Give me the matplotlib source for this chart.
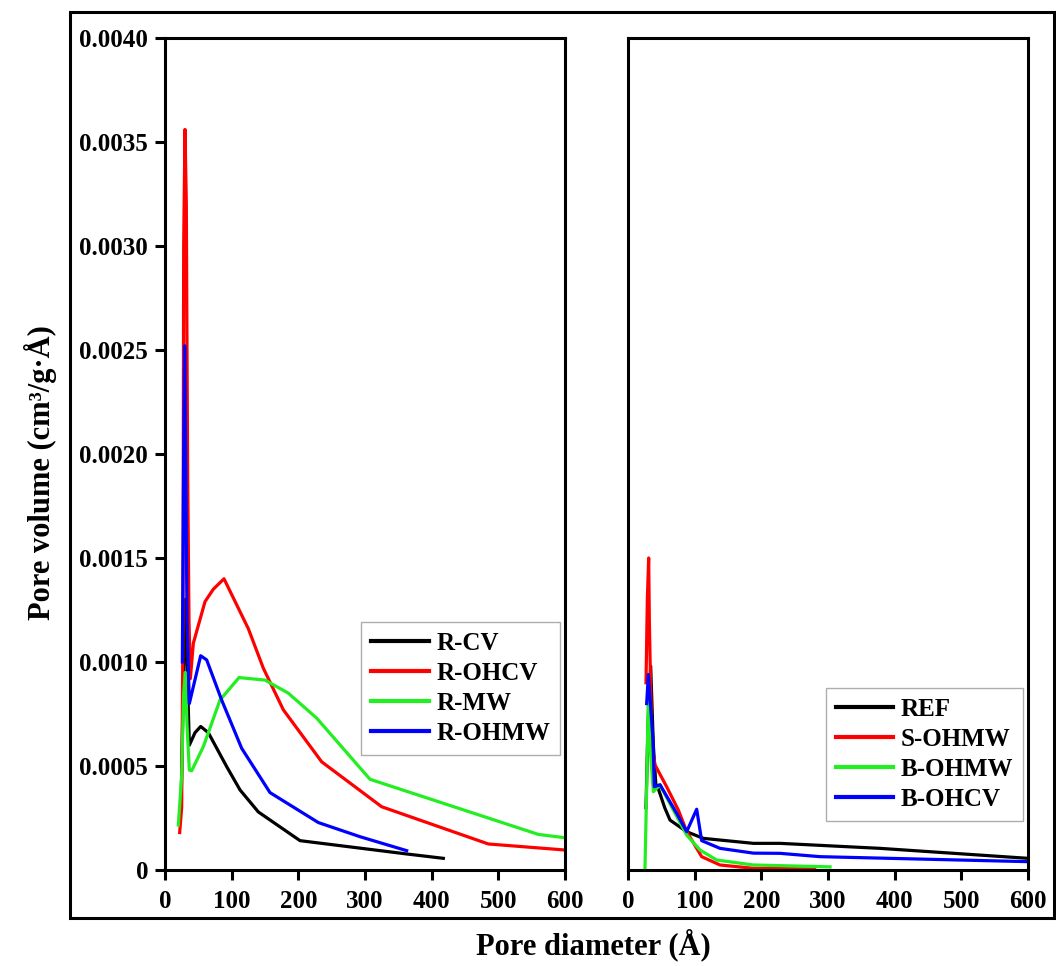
import matplotlib.pyplot as plt
from matplotlib.patches import Rectangle
from matplotlib.ticker import FuncFormatter

plt.rcParams['font.family'] = 'Liberation Serif'
plt.rcParams['font.weight'] = 'bold'

# left panel
r_cv_x = [24, 27, 30, 33, 36.5, 45, 53.5, 65, 92.5, 112.5, 140, 202.5, 362.5, 417.5]
r_cv_y = [0.0003, 0.0008, 0.0013, 0.0010, 0.0006, 0.00066, 0.00069, 0.00066,
          0.000497, 0.000385, 0.000279, 0.000141, 0.000077, 0.000056]

r_ohcv_x = [22, 25, 27, 28, 30, 32, 33, 34, 36, 38, 42.5, 60, 72.5, 88.5, 125,
            147.5, 177.5, 235, 325, 485, 600]
r_ohcv_y = [0.00018, 0.0003, 0.0012, 0.0030, 0.00356, 0.0032, 0.0025, 0.0019,
            0.0012, 0.00092, 0.00109, 0.00129, 0.00135, 0.0014, 0.00116,
            0.00097, 0.00077, 0.00052, 0.000304, 0.000125, 0.000096]

r_mw_x = [20, 25, 28, 30.5, 33, 36.5, 40, 57.5, 82.5, 111, 150, 185, 227.5,
          307.5, 560, 600]
r_mw_y = [0.000216, 0.00045, 0.00085, 0.00095, 0.0007, 0.00048, 0.000477,
          0.000593, 0.000817, 0.000925, 0.000913, 0.00085, 0.00073, 0.000436,
          0.000171, 0.000155]

r_ohmw_x = [26, 28, 29.5, 31, 33, 36.5, 53.5, 62.5, 85, 115, 157.5, 230, 292.5, 362.5]
r_ohmw_y = [0.0010, 0.0020, 0.00252, 0.0020, 0.0012, 0.0008, 0.00103, 0.00101,
            0.000817, 0.000585, 0.000372, 0.000228, 0.00016, 0.000093]

# right panel
ref_x = [27, 30, 34, 38, 42, 45.5, 55, 63, 88, 113, 188, 228, 378, 600]
ref_y = [0.0003, 0.0007, 0.00098, 0.0006, 0.0004, 0.00039, 0.0003, 0.00024,
         0.000184, 0.000152, 0.000128, 0.000128, 0.000104, 0.000056]

s_ohmw_x = [27, 29, 31, 32, 33.5, 36, 40.5, 58, 75.5, 88, 110.5, 138, 188, 280]
s_ohmw_y = [0.0009, 0.0013, 0.0015, 0.0012, 0.00095, 0.0006, 0.000505, 0.0004,
            0.000288, 0.000185, 0.000064, 0.000024, 0.000008, 0.000005]

b_ohmw_x = [25.5, 28, 30.5, 33, 38, 48, 68, 88, 108, 133, 188, 303]
b_ohmw_y = [0.00001, 0.0004, 0.00085, 0.0006, 0.000376, 0.000409, 0.000288,
            0.000168, 0.000096, 0.000048, 0.000024, 0.000015]

b_ohcv_x = [28, 30.5, 37.5, 39.5, 48, 73, 88, 103, 110.5, 138, 188, 228, 288, 600]
b_ohcv_y = [0.0008, 0.00094, 0.000625, 0.0004, 0.00041, 0.000272, 0.000184,
            0.000292, 0.000141, 0.000104, 0.000081, 0.00008, 0.000064, 0.00004]

colors = ['black', '#ff0000', '#22ee22', '#0000ff']
yticks = [0, 0.0005, 0.0010, 0.0015, 0.0020, 0.0025, 0.0030, 0.0035, 0.0040]
xticks = [0, 100, 200, 300, 400, 500, 600]

fig = plt.figure(figsize=(10.56, 9.66), dpi=100)
ax1 = fig.add_axes([0.15625, 0.0994, 0.3788, 0.8613])
ax2 = fig.add_axes([0.5947, 0.0994, 0.3788, 0.8613])

left = [(r_cv_x, r_cv_y, 'R-CV'), (r_ohcv_x, r_ohcv_y, 'R-OHCV'),
        (r_mw_x, r_mw_y, 'R-MW'), (r_ohmw_x, r_ohmw_y, 'R-OHMW')]
right = [(ref_x, ref_y, 'REF'), (s_ohmw_x, s_ohmw_y, 'S-OHMW'),
         (b_ohmw_x, b_ohmw_y, 'B-OHMW'), (b_ohcv_x, b_ohcv_y, 'B-OHCV')]

for ax, series in [(ax1, left), (ax2, right)]:
    for (x, y, lab), c in zip(series, colors):
        ax.plot(x, y, color=c, lw=2.3, label=lab)
    ax.set_xlim(0, 600)
    ax.set_ylim(0, 0.004)
    ax.set_xticks(xticks)
    ax.set_yticks(yticks)
    for s in ax.spines.values():
        s.set_linewidth(2.2)
    ax.tick_params(direction='out', length=7.2, width=2.2, labelsize=18, pad=5)
    ax.tick_params(axis='x', pad=7)

ax1.yaxis.set_major_formatter(FuncFormatter(lambda v, p: '0' if v == 0 else f'{v:.4f}'))
ax2.tick_params(axis='y', left=False, labelleft=False)

leg_kw = dict(loc='upper right', fontsize=18, handlelength=2.3, handletextpad=0.3,
              labelspacing=0.28, borderpad=0.4, borderaxespad=0,
              fancybox=False, edgecolor='#999999')
l1 = ax1.legend(bbox_to_anchor=(0.9875, 0.298), **leg_kw)
l2 = ax2.legend(bbox_to_anchor=(0.9875, 0.219), **leg_kw)
for leg in (l1, l2):
    leg.get_frame().set_linewidth(1.0)
    for h in leg.get_lines():
        h.set_linewidth(3)

fig.patches.append(Rectangle((0.0663, 0.0497), 0.9317, 0.9379, transform=fig.transFigure,
                             fill=False, lw=2.2, edgecolor='black'))
fig.text(0.038, 0.511, 'Pore volume (cm³/g·Å)', rotation=90, ha='center',
         va='center', fontsize=22, fontweight='bold')
fig.text(0.5616, 0.0217, 'Pore diameter (Å)', ha='center', va='center',
         fontsize=22, fontweight='bold')

fig.savefig('out.png', dpi=100)
